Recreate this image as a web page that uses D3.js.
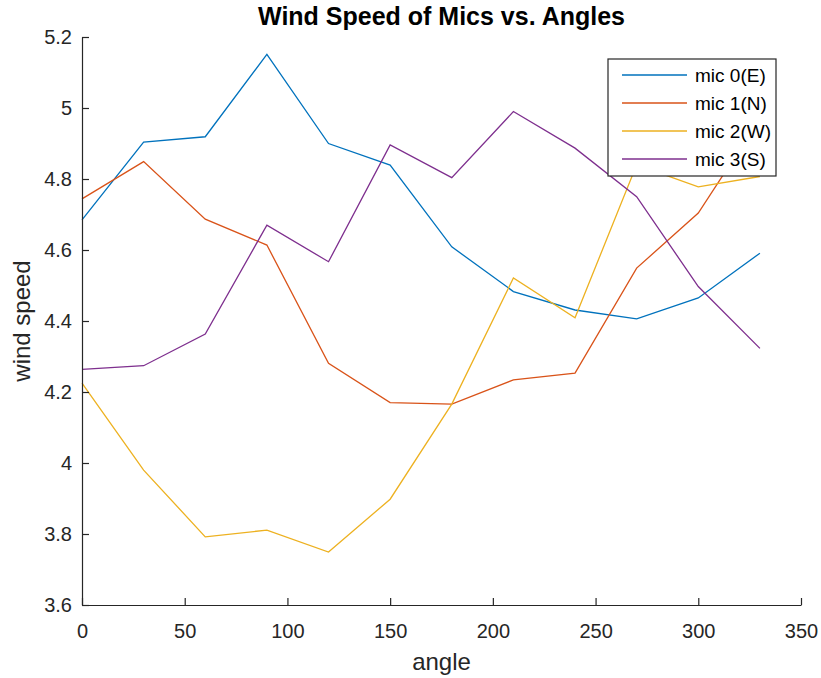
<!DOCTYPE html>
<html>
<head>
<meta charset="utf-8">
<script src="https://cdn.jsdelivr.net/npm/d3@7"></script>
<style>
  body { margin: 0; background: #fff; }
  text { font-family: "Liberation Sans", Arial, sans-serif; }
</style>
</head>
<body>
<div id="plot"></div>
<script>
// data
const angles = [0, 30, 60, 90, 120, 150, 180, 210, 240, 270, 300, 330];
const mic0 = [4.685, 4.904, 4.919, 5.151, 4.900, 4.839, 4.609, 4.483, 4.431, 4.406, 4.465, 4.591];
const mic1 = [4.744, 4.849, 4.687, 4.614, 4.281, 4.170, 4.166, 4.234, 4.253, 4.549, 4.704, 4.970];
const mic2 = [4.225, 3.980, 3.792, 3.811, 3.749, 3.898, 4.166, 4.521, 4.409, 4.840, 4.778, 4.807];
const mic3 = [4.264, 4.274, 4.363, 4.670, 4.567, 4.896, 4.804, 4.990, 4.887, 4.750, 4.497, 4.323];
const seriesNames = ["mic 0(E)", "mic 1(N)", "mic 2(W)", "mic 3(S)"];
const seriesColors = ["#0072BD", "#D95319", "#EDB120", "#7E2F8E"];
const xTicks = [0, 50, 100, 150, 200, 250, 300, 350];
const yTicks = [3.6, 3.8, 4, 4.2, 4.4, 4.6, 4.8, 5, 5.2];

const FRAME_WIDTH = 821;
const FRAME_HEIGHT = 678;
const LEFT = 82, RIGHT = 801, TOP = 37, BOTTOM = 605;
const AXIS_COLOR = "#262626";

const svg = d3.select("#plot")
  .append("svg")
    .attr("width", FRAME_WIDTH)
    .attr("height", FRAME_HEIGHT);

const x = d3.scaleLinear().domain([0, 350]).range([LEFT, RIGHT]);
const y = d3.scaleLinear().domain([3.6, 5.2]).range([BOTTOM, TOP]);

// lines
const allSeries = [mic0, mic1, mic2, mic3];
const line = d3.line()
  .x((d, i) => x(angles[i]))
  .y(d => y(d));

svg.selectAll(".series")
  .data(allSeries)
  .enter()
  .append("path")
    .attr("class", "series")
    .attr("d", d => line(d))
    .attr("fill", "none")
    .attr("stroke", (d, i) => seriesColors[i])
    .attr("stroke-width", 1.3);

// x axis (ticks inward)
const xAxis = svg.append("g")
  .attr("transform", "translate(0," + BOTTOM + ")")
  .call(d3.axisBottom(x).tickValues(xTicks).tickSize(-7).tickSizeOuter(0).tickPadding(19));

// y axis (ticks inward)
const yAxis = svg.append("g")
  .attr("transform", "translate(" + LEFT + ",0)")
  .call(d3.axisLeft(y).tickValues(yTicks).tickFormat(d3.format("~g")).tickSize(-7).tickSizeOuter(0).tickPadding(10));

[xAxis, yAxis].forEach(g => {
  g.select(".domain").attr("stroke", AXIS_COLOR).attr("stroke-width", 1.2);
  g.selectAll(".tick line").attr("stroke", AXIS_COLOR).attr("stroke-width", 1.2);
  g.selectAll(".tick text")
    .attr("fill", AXIS_COLOR)
    .style("font-family", "'Liberation Sans', Arial, sans-serif")
    .style("font-size", "20px");
});

// title and labels
svg.append("text")
  .attr("x", (LEFT + RIGHT) / 2)
  .attr("y", 25)
  .attr("text-anchor", "middle")
  .style("font-size", "25px")
  .style("font-weight", "bold")
  .attr("fill", "#000")
  .text("Wind Speed of Mics vs. Angles");

svg.append("text")
  .attr("x", (LEFT + RIGHT) / 2)
  .attr("y", 670)
  .attr("text-anchor", "middle")
  .style("font-size", "24px")
  .attr("fill", AXIS_COLOR)
  .text("angle");

svg.append("text")
  .attr("transform", "translate(30," + (TOP + BOTTOM) / 2 + ") rotate(-90)")
  .attr("text-anchor", "middle")
  .style("font-size", "24px")
  .attr("fill", AXIS_COLOR)
  .text("wind speed");

// legend
const legend = svg.append("g");
legend.append("rect")
  .attr("x", 608)
  .attr("y", 59)
  .attr("width", 168)
  .attr("height", 117)
  .attr("fill", "#fff")
  .attr("stroke", AXIS_COLOR)
  .attr("stroke-width", 1.2);

seriesNames.forEach((name, i) => {
  const ly = 75 + i * 28;
  legend.append("line")
    .attr("x1", 622).attr("x2", 687)
    .attr("y1", ly).attr("y2", ly)
    .attr("stroke", seriesColors[i])
    .attr("stroke-width", 1.3);
  legend.append("text")
    .attr("x", 695)
    .attr("y", ly + 7)
    .style("font-size", "19px")
    .attr("fill", "#000")
    .text(name);
});
</script>
</body>
</html>
